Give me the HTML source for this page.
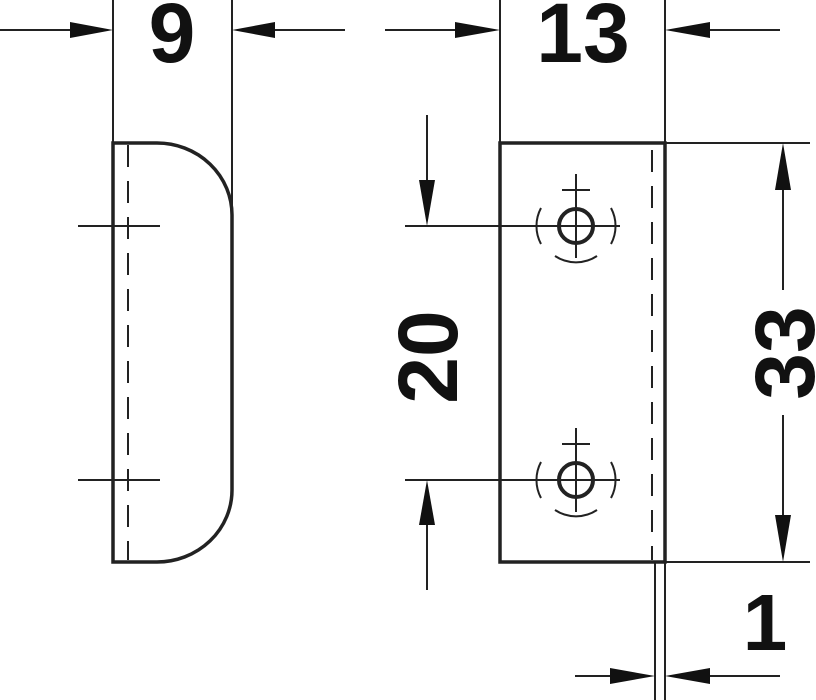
<!DOCTYPE html>
<html><head><style>html,body{margin:0;padding:0;background:#fff}svg{display:block}</style></head>
<body>
<svg width="816" height="700" viewBox="0 0 816 700" xmlns="http://www.w3.org/2000/svg" font-family="Liberation Sans, sans-serif" font-weight="bold">
<g stroke="#222" fill="none" stroke-width="2">
<!-- left part -->
<path d="M113 143 H157 A75 72 0 0 1 232 215 V490 A75 72 0 0 1 157 562 H113 Z" stroke-width="3.5"/>
<line x1="128" y1="145" x2="128" y2="560" stroke-dasharray="22 14"/>
<line x1="78" y1="226" x2="160" y2="226"/>
<line x1="78" y1="480" x2="160" y2="480"/>
<line x1="113" y1="0" x2="113" y2="143"/>
<line x1="232" y1="0" x2="232" y2="215"/>
<line x1="0" y1="30" x2="70" y2="30"/>
<line x1="275" y1="30" x2="345" y2="30"/>
<!-- right part -->
<rect x="500" y="143" width="165" height="419" stroke-width="3.5"/>
<line x1="652" y1="150" x2="652" y2="560" stroke-dasharray="22 14"/>
<line x1="500" y1="0" x2="500" y2="143"/>
<line x1="665" y1="0" x2="665" y2="143"/>
<line x1="385" y1="30" x2="455" y2="30"/>
<line x1="710" y1="30" x2="780" y2="30"/>
<line x1="665" y1="143" x2="810" y2="143"/>
<line x1="665" y1="562" x2="810" y2="562"/>
<line x1="783" y1="190" x2="783" y2="290"/>
<line x1="783" y1="415" x2="783" y2="515"/>
<line x1="405" y1="226" x2="620" y2="226"/>
<line x1="405" y1="480" x2="620" y2="480"/>
<line x1="427" y1="115" x2="427" y2="180"/>
<line x1="427" y1="525" x2="427" y2="590"/>
<line x1="655" y1="562" x2="655" y2="700"/>
<line x1="665" y1="562" x2="665" y2="700"/>
<line x1="575" y1="676" x2="610" y2="676"/>
<line x1="710" y1="676" x2="780" y2="676"/>
<!-- holes -->
<g id="h1">
<circle cx="576" cy="226" r="17" stroke-width="4"/>
<line x1="576" y1="174" x2="576" y2="258"/>
<line x1="562" y1="190" x2="590" y2="190"/>
<path d="M541 208 A38 38 0 0 0 541 244"/>
<path d="M611 208 A38 38 0 0 1 611 244"/>
<path d="M555 256 A38 38 0 0 0 597 256"/>
</g>
<use href="#h1" y="254"/>
</g>
<g fill="#111">
<polygon points="113,30 70,22 70,38"/>
<polygon points="232,30 275,22 275,38"/>
<polygon points="500,30 455,22 455,38"/>
<polygon points="665,30 710,22 710,38"/>
<polygon points="783,143 775,190 791,190"/>
<polygon points="783,562 775,515 791,515"/>
<polygon points="427,226 419,180 435,180"/>
<polygon points="427,480 419,525 435,525"/>
<polygon points="655,676 610,668 610,684"/>
<polygon points="665,676 710,668 710,684"/>
</g>
<g fill="#111" font-size="84" text-anchor="middle">
<text x="172" y="62">9</text>
<text x="583" y="62">13</text>
<text x="765" y="650" font-size="80">1</text>
<text transform="translate(457 357) rotate(-90)">20</text>
<text transform="translate(814 353) rotate(-90)">33</text>
</g>
</svg>
</body></html>
